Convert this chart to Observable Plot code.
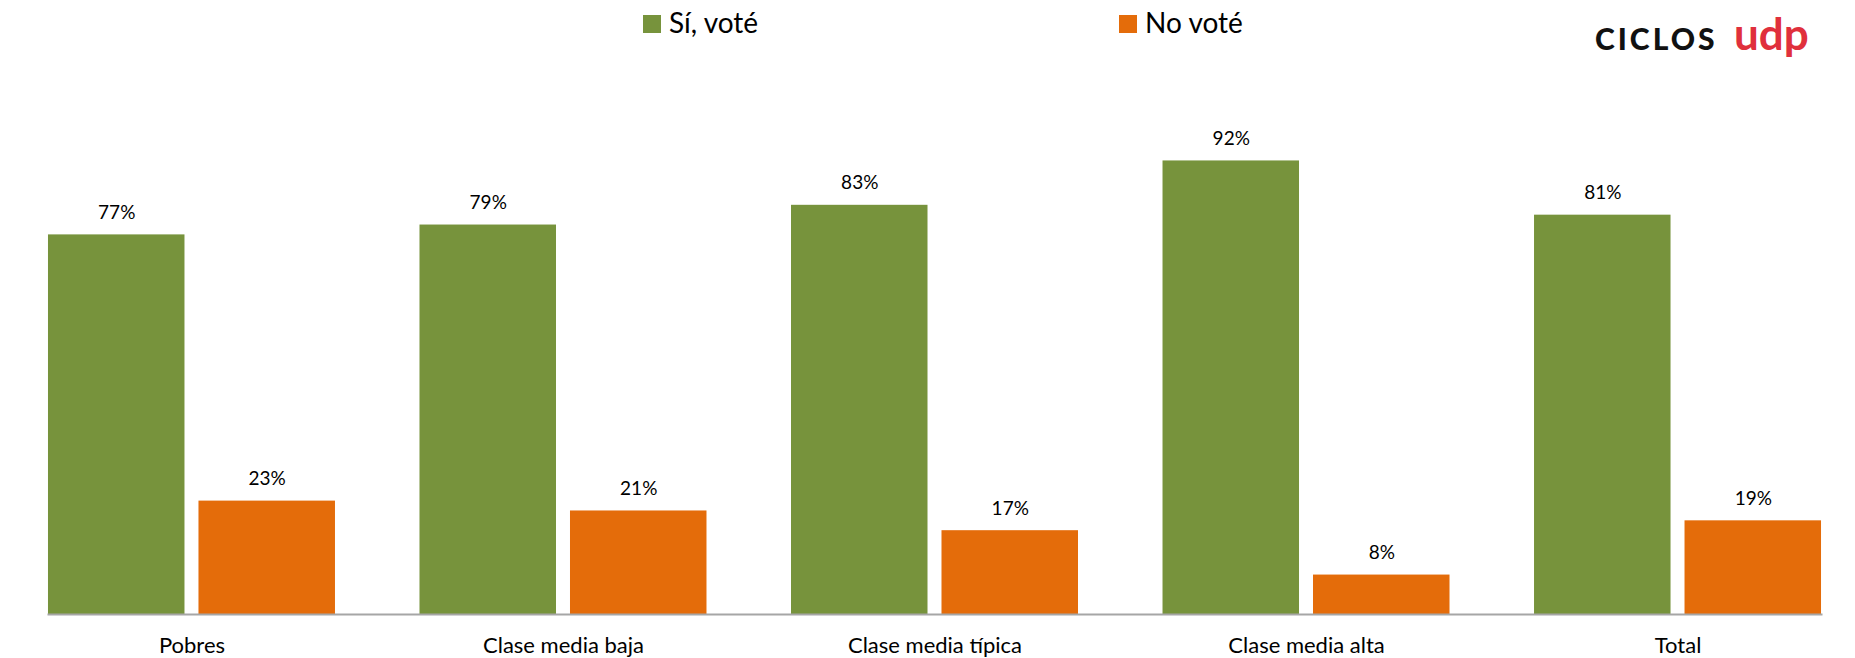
<!DOCTYPE html>
<html>
<head>
<meta charset="utf-8">
<script src="https://cdn.jsdelivr.net/npm/d3@7"></script>
<script src="https://cdn.jsdelivr.net/npm/@observablehq/plot@0.6"></script>
<style>
  html, body { margin: 0; padding: 0; background: #fff; overflow: hidden; }
  #wrap { position: relative; width: 1855px; height: 658px; overflow: hidden; font-family: Lato, "Open Sans", sans-serif; }
  #chart { position: absolute; left: 0; top: 0; width: 1863px; }
  #chart svg { max-width: none !important; }
  .legend { position: absolute; top: 8px; left: 643px; display: flex; gap: 361px; }
  .legend .item { display: flex; align-items: center; font-size: 28px; line-height: 28px; color: #000; white-space: nowrap; }
  .legend .sw { width: 18px; height: 18px; margin-right: 8px; margin-top: 4px; }
  .logo { position: absolute; left: 0; top: 0; }
  .logo span { position: absolute; line-height: 1; white-space: nowrap; }
</style>
</head>
<body>
<div id="wrap">
  <div id="chart"></div>
  <div class="legend" id="legend"></div>
  <div class="logo">
    <span style="left:1595px; top:23px; font-size:30px; font-weight:900; letter-spacing:3px; color:#111;">CICLOS</span>
    <span style="left:1734px; top:11px; font-size:44px; font-weight:700; color:#e0303c;">udp</span>
  </div>
</div>
<script>
const categories = ["Pobres", "Clase media baja", "Clase media típica", "Clase media alta", "Total"];
const series = ["Sí, voté", "No voté"];
const siVote = [77, 79, 83, 92, 81];
const noVote = [23, 21, 17, 8, 19];
const colors = ["#77933c", "#e46c0a"];

const rows = categories.flatMap((c, i) => [
  {cat: c, series: series[0], value: siVote[i]},
  {cat: c, series: series[1], value: noVote[i]}
]);

const chart = Plot.plot({
  width: 1863,
  height: 658,
  marginLeft: 6,
  marginRight: 0,
  marginTop: 121,
  marginBottom: 44,
  style: {fontFamily: "Lato, 'Open Sans', sans-serif", background: "white", overflow: "visible", maxWidth: "none"},
  fx: {domain: categories, paddingInner: 0.2275, paddingOuter: 0.113, round: false, label: null},
  x: {domain: series, paddingInner: 0.093, paddingOuter: 0, round: false, axis: null},
  y: {domain: [0, 100], axis: null},
  color: {domain: series, range: colors},
  marks: [
    Plot.barY(rows, {fx: "cat", x: "series", y: "value", fill: "series"}),
    Plot.text(rows, {fx: "cat", x: "series", y: "value", text: d => d.value + "%", dy: -22, fontSize: 19, fill: "#000"}),
    Plot.frame({anchor: "bottom", stroke: "#a6a6a6", strokeWidth: 2, facet: "super"}),
    Plot.axisFx({anchor: "bottom", tickSize: 0, tickPadding: 23, fontSize: 22, label: null, fill: "#000"})
  ]
});
document.getElementById("chart").appendChild(chart);

const legend = document.getElementById("legend");
series.forEach((s, i) => {
  const item = document.createElement("div");
  item.className = "item";
  const sw = document.createElement("span");
  sw.className = "sw";
  sw.style.background = colors[i];
  const t = document.createElement("span");
  t.textContent = s;
  item.appendChild(sw);
  item.appendChild(t);
  legend.appendChild(item);
});
</script>
</body>
</html>
